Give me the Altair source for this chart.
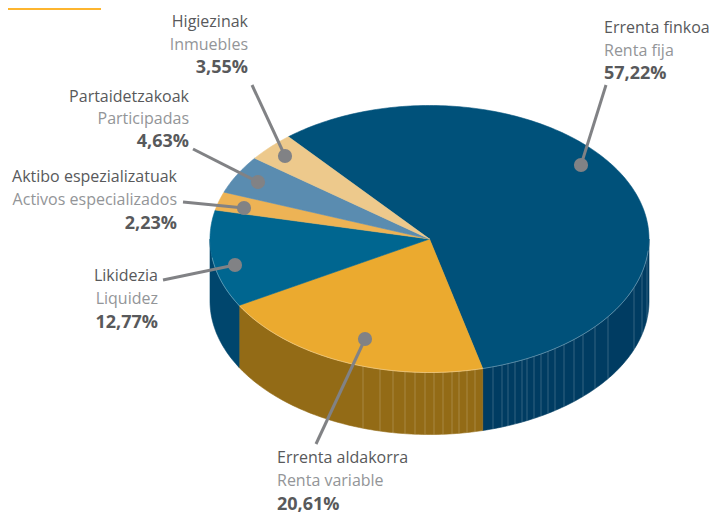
import math
import altair as alt
import pandas as pd

# --- chart values
names_eu = ["Errenta finkoa", "Errenta aldakorra", "Likidezia", "Aktibo espezializatuak", "Partaidetzakoak", "Higiezinak"]
names_es = ["Renta fija", "Renta variable", "Liquidez", "Activos especializados", "Participadas", "Inmuebles"]
# wedge sizes as they appear in the picture: the Likidezia wedge is drawn near 11.77 although printed 12,77%
shares = [57.22, 20.61, 11.77, 2.23, 4.63, 3.55]
share_labels = ["57,22%", "20,61%", "12,77%", "2,23%", "4,63%", "3,55%"]

# --- styling / layout (not data)
top_colors = ["#00517A", "#EBAA2F", "#006690", "#EDB355", "#5A8CB0", "#EDC98C"]
wall_colors = ["#003C62", "#936B16", "#00466D", None, None, None]
CX, CY, RX, RY, DEPTH = 429.5, 239, 219.5, 133.5, 62
START = 320
W, H = 702, 500
LEADER = "#818285"
DARK = "#58595B"
LIGHT = "#939598"
FONT = "Open Sans"
FS = 16
FS_BOLD = 18

# label anchor: x, align, y of three lines; leader: from (x,y) to dot (x,y)
labels = [
    (604, "left", (28, 51, 74), (606, 85), (581, 165)),
    (277, "left", (458, 481, 505), (316, 444), (365, 339)),
    (158, "right", (276, 299, 323), (163, 280), (235, 265)),
    (177, "right", (177, 200, 224), (183, 202), (244, 208)),
    (189, "right", (97, 119, 142), (193, 149), (258, 182)),
    (248, "right", (22, 45, 68), (252, 85), (285, 156)),
]
facet_x = [363, 380, 393, 405, 415, 425, 434, 443, 452, 459, 467, 475, 493, 502, 508, 515, 522, 527,
           534, 541, 548, 555, 564, 574, 583, 595, 608, 634, 642, 647]

X = alt.X("x:Q", axis=None, scale=alt.Scale(domain=[8, 8 + W], nice=False, zero=False))
Y = alt.Y("y:Q", axis=None, scale=alt.Scale(domain=[8, 8 + H], reverse=True, nice=False, zero=False))


def rim(t):
    r = math.radians(t)
    return CX + RX * math.sin(r), CY - RY * math.cos(r)


def arange(a, b, step=1.0):
    n = max(2, int(abs(b - a) / step) + 2)
    return [a + (b - a) * i / (n - 1) for i in range(n)]


def poly(points, fill, stroke_width=0.6):
    df = pd.DataFrame(points, columns=["x", "y"]).reset_index(names="o")
    return alt.Chart(df).mark_line(fill=fill, stroke=fill, strokeWidth=stroke_width, interpolate="linear-closed").encode(
        X, Y, order="o:Q")


# angular extents from the shares, the first slice starting before 12 o'clock
spans = []
t = START - 360
for s in shares:
    d = s / sum(shares) * 360
    spans.append((t, t + d))
    t += d

layers = []
# outer walls, only the front half of the cylinder
for (a, b), col in zip(spans, wall_colors):
    lo, hi = max(a, 90), min(b, 270)
    if col is None or lo >= hi:
        continue
    top = [rim(v) for v in arange(lo, hi)]
    bottom = [(x, y + DEPTH) for x, y in reversed(top)]
    layers.append(poly(top + bottom, col))

# wall facets
stripes = []
for fx in facet_x:
    yt = CY + RY * math.sqrt(max(0, 1 - ((fx - CX) / RX) ** 2))
    stripes.append({"x": fx, "y": yt, "y2": yt + DEPTH})
layers.append(alt.Chart(pd.DataFrame(stripes)).mark_rule(color="white", opacity=0.25, strokeWidth=0.8).encode(
    X, Y, y2="y2:Q"))

# top face
for (a, b), col in zip(spans, top_colors):
    layers.append(poly([(CX, CY)] + [rim(v) for v in arange(a, b)], col))

# pale rim line
rim_df = pd.DataFrame([rim(v) for v in arange(95, 262)], columns=["x", "y"]).reset_index(names="o")
layers.append(alt.Chart(rim_df).mark_line(color="white", opacity=0.45, strokeWidth=0.7).encode(X, Y, order="o:Q"))

# leaders, dots
lead = pd.DataFrame([{"x": l[3][0], "y": l[3][1], "x2": l[4][0], "y2": l[4][1]} for l in labels])
dots = pd.DataFrame([{"x": l[4][0], "y": l[4][1]} for l in labels])
layers.append(alt.Chart(lead).mark_rule(color=LEADER, strokeWidth=3).encode(X, Y, x2="x2:Q", y2="y2:Q"))
layers.append(alt.Chart(dots).mark_point(filled=True, color=LEADER, opacity=1, size=201, shape="circle").encode(X, Y))

# texts
for i, (lx, al, ys, _, _) in enumerate(labels):
    for txt, yy, col, w, fs in zip((names_eu[i], names_es[i], share_labels[i]), ys, (DARK, LIGHT, DARK),
                                   ("normal", "normal", "bold"), (FS, FS, FS_BOLD)):
        df = pd.DataFrame([{"x": lx, "y": yy, "t": txt}])
        layers.append(alt.Chart(df).mark_text(align=al, baseline="middle", font=FONT, fontSize=fs, fontWeight=w, color=col).encode(
            X, Y, text="t:N"))

# corner tab
tab = pd.DataFrame([{"x": 0, "x2": 101, "y": 0, "y2": 10}])
layers.append(alt.Chart(tab).mark_rect(color="#FDB52F", clip=True).encode(X, Y, x2="x2:Q", y2="y2:Q"))

chart = alt.layer(*layers).properties(
    width=W, height=H, padding=dict(left=0, top=0, right=0, bottom=8), autosize=alt.AutoSizeParams(type="none"),
).configure_view(stroke=None)

chart.save("out.html", embed_options={"renderer": "svg", "actions": False})
